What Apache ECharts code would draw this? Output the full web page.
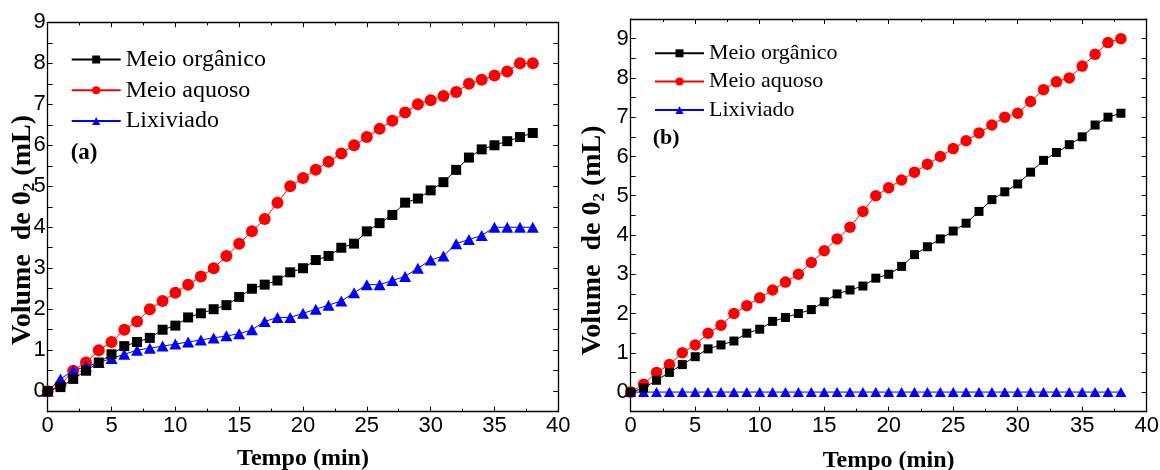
<!DOCTYPE html>
<html>
<head>
<meta charset="utf-8">
<script src="https://cdn.jsdelivr.net/npm/echarts@6/dist/echarts.min.js"></script>
<style>
html,body{margin:0;padding:0;background:#fff;}
#chart{width:1160px;height:470px;}
</style>
</head>
<body>
<div id="chart"></div>
<script>
// ---- data ----
const tempo = [0,1,2,3,4,5,6,7,8,9,10,11,12,13,14,15,16,17,18,19,20,21,22,23,24,25,26,27,28,29,30,31,32,33,34,35,36,37,38];
const seriesNames = ['Meio orgânico','Meio aquoso','Lixiviado'];

// panel (a)
const aOrganico = [0,0.1,0.3,0.5,0.7,0.9,1.1,1.2,1.3,1.5,1.6,1.8,1.9,2.0,2.1,2.3,2.5,2.6,2.7,2.9,3.0,3.2,3.3,3.5,3.6,3.9,4.1,4.3,4.6,4.7,4.9,5.1,5.4,5.7,5.9,6.0,6.1,6.2,6.3];
const aAquoso   = [0,0.15,0.5,0.7,1.0,1.2,1.5,1.7,2.0,2.2,2.4,2.6,2.8,3.0,3.3,3.6,3.9,4.2,4.6,5.0,5.2,5.4,5.6,5.8,6.0,6.2,6.4,6.6,6.8,7.0,7.1,7.2,7.3,7.5,7.6,7.7,7.8,8.0,8.0];
const aLixiviado= [0,0.3,0.5,0.6,0.7,0.8,0.9,1.0,1.05,1.1,1.15,1.2,1.25,1.3,1.35,1.4,1.5,1.7,1.8,1.8,1.9,2.0,2.1,2.2,2.4,2.6,2.6,2.7,2.8,3.0,3.2,3.3,3.6,3.7,3.8,4.0,4.0,4.0,4.0];

// panel (b)
const bOrganico = [0,0.1,0.3,0.5,0.7,0.9,1.1,1.2,1.3,1.5,1.6,1.8,1.9,2.0,2.1,2.3,2.5,2.6,2.7,2.9,3.0,3.2,3.5,3.7,3.9,4.1,4.3,4.6,4.9,5.1,5.3,5.6,5.9,6.1,6.3,6.5,6.8,7.0,7.1];
const bAquoso   = [0,0.2,0.5,0.7,1.0,1.2,1.5,1.7,2.0,2.2,2.4,2.6,2.8,3.0,3.3,3.6,3.9,4.2,4.6,5.0,5.2,5.4,5.6,5.8,6.0,6.2,6.4,6.6,6.8,7.0,7.1,7.4,7.7,7.9,8.0,8.3,8.6,8.9,9.0];
const bLixiviado= [0,0,0,0,0,0,0,0,0,0,0,0,0,0,0,0,0,0,0,0,0,0,0,0,0,0,0,0,0,0,0,0,0,0,0,0,0,0,0];

const panelLabels = ['(a)','(b)'];
const xName = 'Tempo (min)';

// ---- chart ----
const serif = 'Liberation Serif, Times New Roman, serif';
const sans = 'Liberation Sans, Arial, sans-serif';
const colors = ['#000000','#ff0000','#0000ff'];
const symbols = ['rect','circle','triangle'];

function pairs(vals){ return tempo.map((t,i)=>[t, vals[i]]); }

const grids = [
  {left:47.7, top:22.3, width:510.6, height:389.4, outerBoundsMode:'none', containLabel:false},
  {left:630.7, top:19, width:516, height:392.7, outerBoundsMode:'none', containLabel:false}
];
const yMax = [9, 9.5];
const symSizes = [[10,12,[12,11]],[9,11.5,[11,10]]];
const nameGaps = [10, 23];
const namePad = [26, 50];
const xNameGaps = [35, 37];

const xAxes = [], yAxes = [], series = [];
for (let g=0; g<2; g++){
  const axisLine = {onZero:false, lineStyle:{color:'#000', width:1.3}};
  const tick = {show:true, inside:true, length:5, lineStyle:{color:'#000', width:1}};
  const minor = {show:true, splitNumber:2, length:3, lineStyle:{color:'#000', width:1}};
  xAxes.push({
    type:'value', gridIndex:g, min:0, max:40, interval:5, position:'bottom',
    axisLine, axisTick:tick, minorTick:minor, splitLine:{show:false}, minorSplitLine:{show:false},
    axisLabel:{color:'#000', fontSize:22, fontFamily:sans, margin:3},
    name:xName, nameLocation:'middle', nameGap:xNameGaps[g], nameMoveOverlap:false,
    nameTextStyle:{color:'#000', fontSize:24, fontWeight:'bold', fontFamily:serif}
  });
  xAxes.push({
    type:'value', gridIndex:g, min:0, max:40, interval:5, position:'top',
    axisLine, axisTick:tick, minorTick:minor, splitLine:{show:false}, axisLabel:{show:false}
  });
  const yTick = {show:true, inside:true, length:5, lineStyle:{color:'#000', width:1}};
  yAxes.push({
    type:'value', gridIndex:g, min:-0.5, max:yMax[g], interval:0.5, position:'left',
    axisLine:{onZero:false, lineStyle:{color:'#000', width:1.3}}, axisTick:yTick, splitLine:{show:false},
    axisLabel:{color:'#000', fontSize:22, fontFamily:sans, margin:2,
      formatter:(v)=> Math.abs(v-Math.round(v))<1e-6 ? String(Math.round(v)) : ''},
    name:'{b|Volume  de 0}{s|2}{b| (mL)}', nameLocation:'middle', nameRotate:90, nameGap:nameGaps[g],
    nameMoveOverlap:false,
    nameTextStyle:{color:'#000', padding:[0, namePad[g], 0, 0],
      rich:{
        b:{fontSize:28, fontWeight:'bold', fontFamily:serif, color:'#000', lineHeight:30, verticalAlign:'middle'},
        s:{fontSize:17, fontWeight:'bold', fontFamily:serif, color:'#000', lineHeight:14, verticalAlign:'bottom'}
      }}
  });
  yAxes.push({
    type:'value', gridIndex:g, min:-0.5, max:yMax[g], interval:0.5, position:'right',
    axisLine:{onZero:false, lineStyle:{color:'#000', width:1.3}}, axisTick:yTick, splitLine:{show:false}, axisLabel:{show:false}
  });
  const vals = g===0 ? [aOrganico,aAquoso,aLixiviado] : [bOrganico,bAquoso,bLixiviado];
  for (let s=0; s<3; s++){
    series.push({
      type:'line', name:seriesNames[s], xAxisIndex:g*2, yAxisIndex:g*2,
      data:pairs(vals[s]), symbol:symbols[s], symbolSize:symSizes[g][s], showAllSymbol:true,
      lineStyle:{color:colors[s], width:1}, itemStyle:{color:colors[s]},
      emphasis:{disabled:true}, z: s===2?3:(s===1?2:4)
    });
  }
}

const option = {
  animation:false,
  backgroundColor:'#fff',
  grid: grids,
  xAxis: xAxes,
  yAxis: yAxes,
  series,
  legend:[
    {orient:'vertical', left:65.7, top:42.5, itemWidth:49, itemHeight:10, itemGap:6.8, selectedMode:false,
     data:seriesNames, textStyle:{color:'#000', fontSize:24, fontFamily:serif}},
    {orient:'vertical', left:649, top:37.3, itemWidth:49, itemHeight:10, itemGap:6.3, selectedMode:false,
     data:seriesNames, textStyle:{color:'#000', fontSize:22, fontFamily:serif}}
  ],
  title:[
    {text:panelLabels[0], left:65.7, top:136.8, textStyle:{color:'#000', fontSize:23, fontWeight:'bold', fontFamily:serif}},
    {text:panelLabels[1], left:647.7, top:122, textStyle:{color:'#000', fontSize:22, fontWeight:'bold', fontFamily:serif}}
  ]
};
const chart = echarts.init(document.getElementById('chart'), null, {renderer:'canvas'});
chart.setOption(option);
</script>
</body>
</html>
